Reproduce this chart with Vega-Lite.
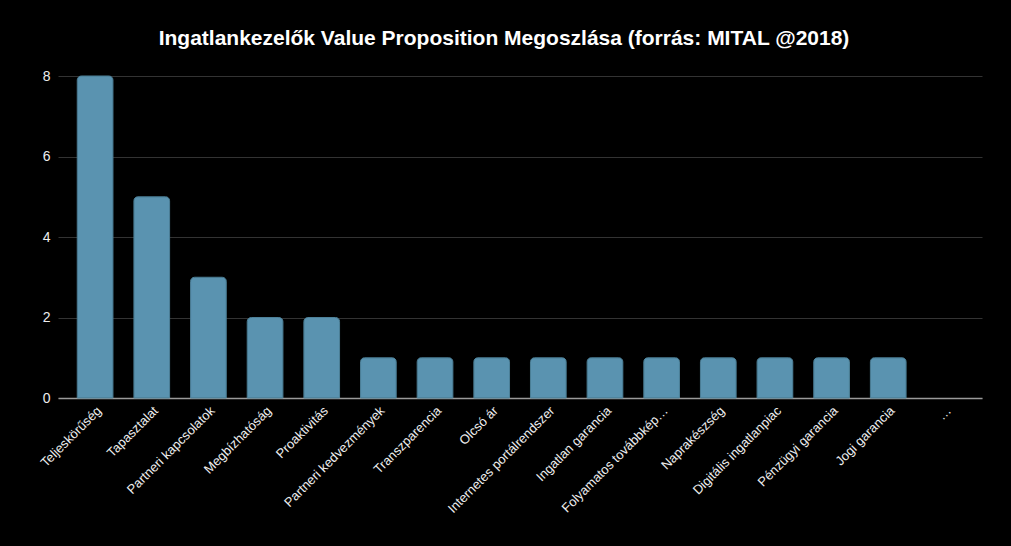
{
  "$schema": "https://vega.github.io/schema/vega-lite/v6.json",
  "autosize": {"type": "none"},
  "width": 924,
  "height": 322,
  "padding": {"left": 58, "top": 76, "right": 29, "bottom": 148},
  "background": "#000000",
  "title": {
    "text": "Ingatlankezelők Value Proposition Megoszlása (forrás: MITAL @2018)",
    "font": "Liberation Sans",
    "fontSize": 21,
    "fontWeight": "bold",
    "color": "#ffffff",
    "anchor": "middle",
    "baseline": "alphabetic",
    "dx": -16,
    "dy": 27,
    "offset": 30
  },
  "data": {
    "values": [
      {"kategoria": "Teljeskörűség", "ertek": 8},
      {"kategoria": "Tapasztalat", "ertek": 5},
      {"kategoria": "Partneri kapcsolatok", "ertek": 3},
      {"kategoria": "Megbízhatóság", "ertek": 2},
      {"kategoria": "Proaktivitás", "ertek": 2},
      {"kategoria": "Partneri kedvezmények", "ertek": 1},
      {"kategoria": "Transzparencia", "ertek": 1},
      {"kategoria": "Olcsó ár", "ertek": 1},
      {"kategoria": "Internetes portálrendszer", "ertek": 1},
      {"kategoria": "Ingatlan garancia", "ertek": 1},
      {"kategoria": "Folyamatos továbbkép…", "ertek": 1},
      {"kategoria": "Naprakészség", "ertek": 1},
      {"kategoria": "Digitális ingatlanpiac", "ertek": 1},
      {"kategoria": "Pénzügyi garancia", "ertek": 1},
      {"kategoria": "Jogi garancia", "ertek": 1},
      {"kategoria": "…", "ertek": null}
    ]
  },
  "mark": {
    "type": "bar",
    "color": "#5a93b0",
    "stroke": "#4d8199",
    "strokeWidth": 1,
    "cornerRadiusTopLeft": 4,
    "cornerRadiusTopRight": 4
  },
  "encoding": {
    "x": {
      "field": "kategoria",
      "type": "nominal",
      "sort": null,
      "scale": {
        "domain": ["Teljeskörűség", "Tapasztalat", "Partneri kapcsolatok", "Megbízhatóság", "Proaktivitás", "Partneri kedvezmények", "Transzparencia", "Olcsó ár", "Internetes portálrendszer", "Ingatlan garancia", "Folyamatos továbbkép…", "Naprakészség", "Digitális ingatlanpiac", "Pénzügyi garancia", "Jogi garancia", "…"],
        "paddingInner": 0.37,
        "paddingOuter": 0.34
      },
      "axis": {
        "title": null,
        "labelAngle": -45,
        "labelFont": "Liberation Sans",
        "labelFontSize": 13,
        "labelColor": "#eeeeee",
        "labelPadding": 6,
        "ticks": false,
        "domainColor": "#9a9a9a",
        "domainWidth": 1.5,
        "grid": false
      }
    },
    "y": {
      "field": "ertek",
      "type": "quantitative",
      "scale": {"domain": [0, 8], "nice": false},
      "axis": {
        "title": null,
        "values": [0, 2, 4, 6, 8],
        "labelFont": "Liberation Sans",
        "labelFontSize": 14,
        "labelColor": "#eeeeee",
        "labelPadding": 8,
        "ticks": false,
        "domain": false,
        "grid": true,
        "gridColor": "#333333",
        "gridWidth": 1
      }
    }
  },
  "config": {
    "view": {"stroke": null}
  }
}
